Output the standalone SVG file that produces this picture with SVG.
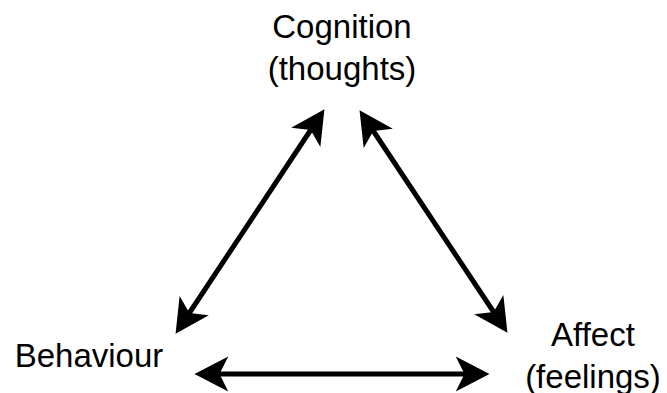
<svg xmlns="http://www.w3.org/2000/svg" width="667" height="393" viewBox="0 0 667 393">
<style>
.lbl{font-family:"Liberation Sans",Arial,sans-serif;font-size:33px;fill:#000;text-anchor:middle}
.conn{stroke:#000;stroke-width:5;fill:none;marker-start:url(#ah);marker-end:url(#ah)}
</style>
<defs>
<marker id="ah" markerUnits="userSpaceOnUse" markerWidth="40" markerHeight="40" refX="0" refY="0" viewBox="-12 -16 32 32" orient="auto-start-reverse" overflow="visible">
<path d="M18,0 L-9,-14 L-2,0 L-9,14 Z" fill="#000"/>
</marker>
</defs>
<rect width="667" height="393" fill="#fff"/>
<g id="cognition">
<text class="lbl" x="342" y="38">Cognition</text>
<text class="lbl" x="342" y="80">(thoughts)</text>
</g>
<g id="behaviour">
<text class="lbl" x="89" y="367">Behaviour</text>
</g>
<g id="affect">
<text class="lbl" x="593" y="346">Affect</text>
<text class="lbl" x="593" y="388">(feelings)</text>
</g>
<g id="connectors">
<line class="conn" x1="312" y1="128" x2="188" y2="315"/>
<line class="conn" x1="372" y1="129" x2="495" y2="314"/>
<line class="conn" x1="217" y1="374" x2="467" y2="374"/>
</g>
</svg>
